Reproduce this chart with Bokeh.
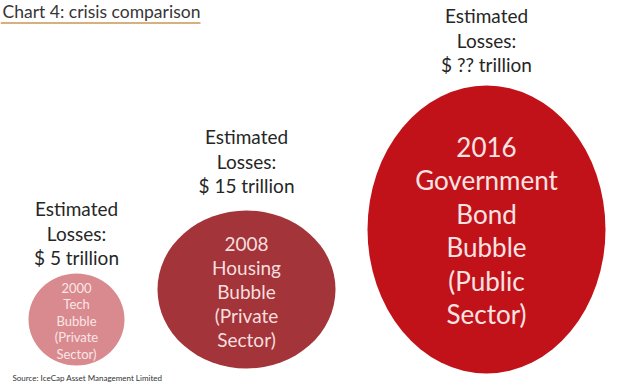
from bokeh.plotting import figure
from bokeh.models import Range1d
from bokeh.core.properties import value
from bokeh.embed import file_html
from bokeh.resources import INLINE

# ---- data ----
years = ["2000", "2008", "2016"]
bubble_names = [["Tech", "Bubble"], ["Housing", "Bubble"], ["Government", "Bond", "Bubble"]]
sectors = ["Private", "Private", "Public"]
loss_labels = ["$ 5 trillion", "$ 15 trillion", "$ ?? trillion"]
losses = [5, 15, None]
title = "Chart 4: crisis comparison"
source = "Source: IceCap Asset Management Limited"

# ---- layout (pixels of the 620x384 canvas) ----
cx = [76, 246, 486]
cy = [319, 289, 229]
w = [96, 178, 238]
h = [92, 158, 288]
colors = ["#d98a8e", "#a3343a", "#c1121a"]
inner_color = ["#f9e6e6", "#f8dede", "#fbe3e3"]
inner_size = [13, 19, 26]
inner_gap = [16.5, 24, 33.5]
inner_top = [287, 243, 146]
label_top = [208, 136, 15]
label_gap = 24.5
FONT = "Lato"

W, H = 620, 384
p = figure(width=W, height=H, x_range=Range1d(0, W), y_range=Range1d(H, 0),
           output_backend="svg", toolbar_location=None, min_border=0)
p.axis.visible = False
p.grid.visible = False
p.outline_line_color = None
p.background_fill_color = "white"
p.border_fill_color = "white"

p.ellipse(x=cx, y=cy, width=w, height=h, fill_color=colors, line_color=None)

# inner texts
for i in range(3):
    lines = [years[i]] + bubble_names[i] + ["(" + sectors[i], "Sector)"]
    ys = [inner_top[i] + k * inner_gap[i] for k in range(len(lines))]
    p.text(x=[cx[i]] * len(lines), y=ys, text=lines, text_align="center",
           text_baseline="middle", text_font=value(FONT),
           text_font_size=f"{inner_size[i]}px", text_color=inner_color[i])

# loss labels
for i in range(3):
    lines = ["Estimated", "Losses:", loss_labels[i]]
    ys = [label_top[i] + k * label_gap for k in range(3)]
    p.text(x=[cx[i]] * 3, y=ys, text=lines, text_align="center",
           text_baseline="middle", text_font=value(FONT),
           text_font_size="19px", text_color="#262626")

# title & underline
p.text(x=[2], y=[11], text=[title], text_align="left", text_baseline="middle",
       text_font=value(FONT), text_font_size="17.5px", text_color="#363636")
p.line(x=[0, 200], y=[22.5, 22.5], line_color="#d6b07e", line_width=2)

# source
p.text(x=[12], y=[377], text=[source], text_align="left", text_baseline="middle",
       text_font=value(FONT), text_font_size="8px", text_color="#333333")

html = file_html(p, INLINE)
html = html.replace("<head>", "<head><style>html,body{margin:0;padding:0;}</style>", 1)
open("out.html", "w").write(html)
